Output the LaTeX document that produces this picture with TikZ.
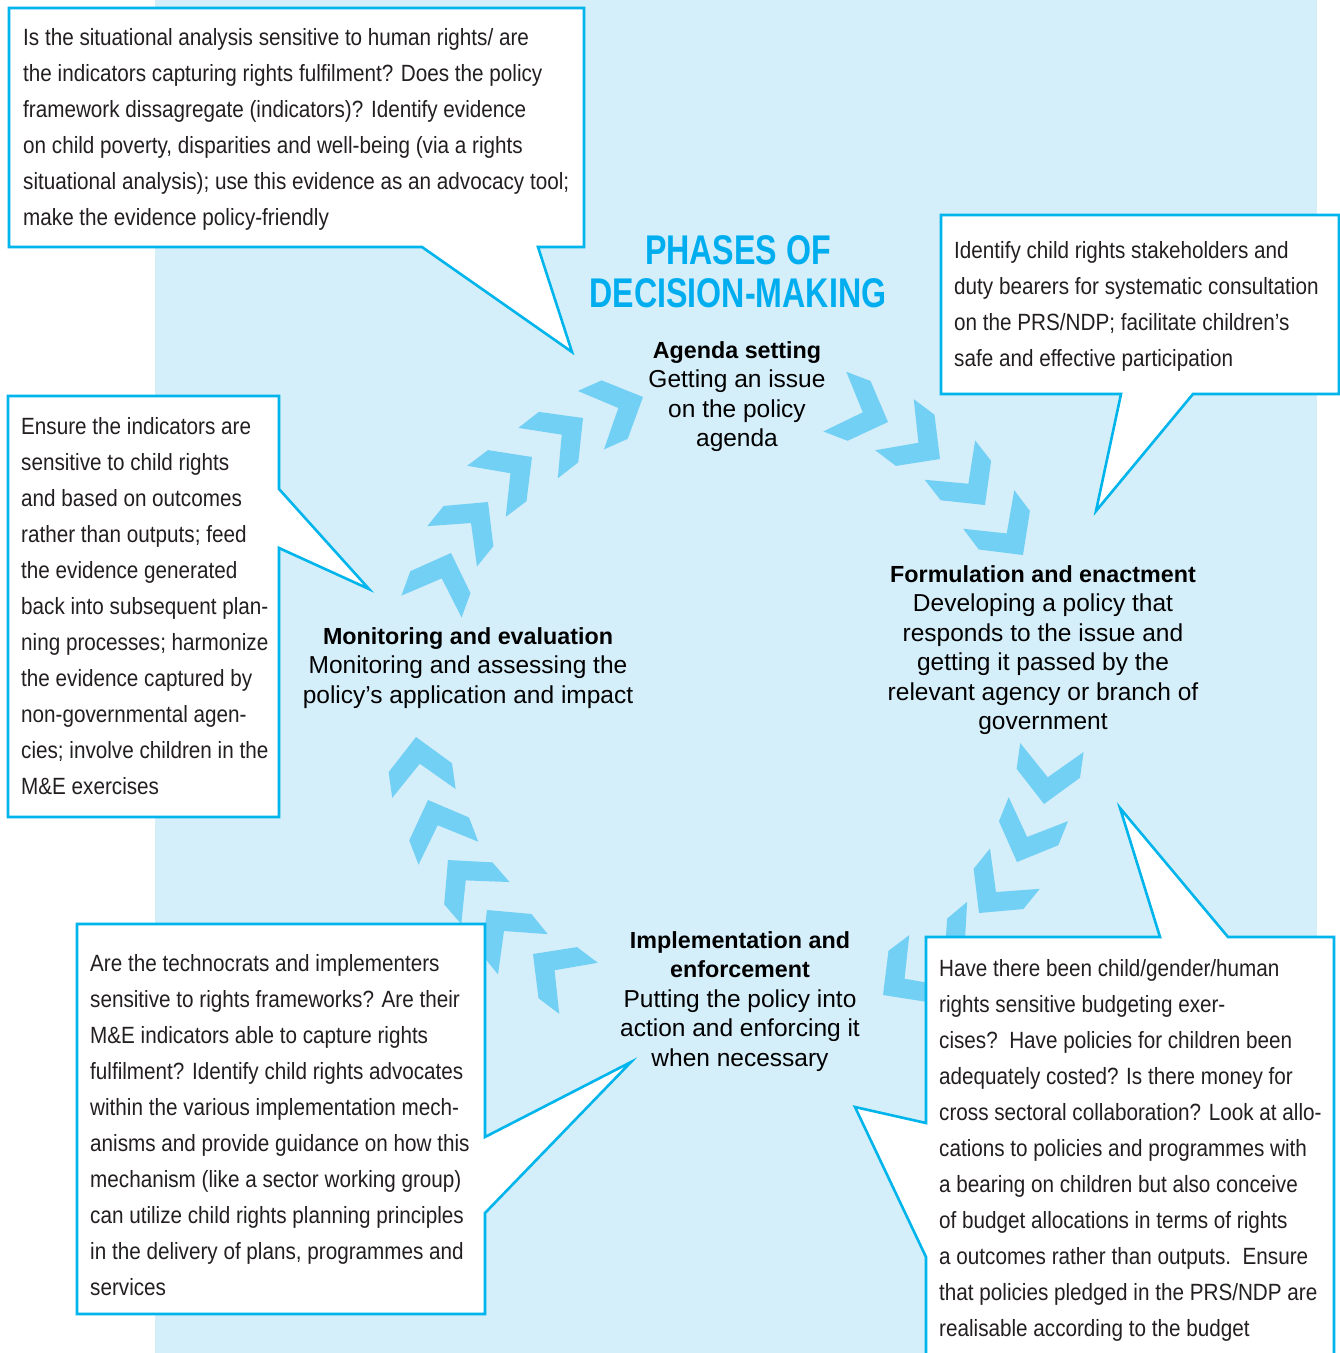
\documentclass[tikz,border=0pt]{standalone}
\usepackage{fontspec}
\setmainfont{Liberation Sans}
\newfontfamily\callfont[FakeStretch=0.88]{Liberation Sans}
\newfontfamily\titlefont[FakeStretch=0.775]{Liberation Sans}
\definecolor{bgblue}{RGB}{212,238,250}
\definecolor{chevblue}{RGB}{114,208,245}
\definecolor{edgecyan}{RGB}{0,180,236}
\definecolor{titlecyan}{RGB}{0,174,239}
\definecolor{txt}{RGB}{35,31,32}
\newcommand{\phb}[1]{{\fontsize{23.3}{29.5}\selectfont\bfseries #1}}
\begin{document}
\begin{tikzpicture}[x=1pt,y=-1pt,
  callout/.style={fill=white,draw=edgecyan,line width=2.6pt,line join=miter},
  calltext/.style={anchor=north west,inner sep=0pt,align=left,font=\callfont\fontsize{23.5}{36}\selectfont,text=txt},
  phase/.style={anchor=north,inner sep=0pt,align=center,font=\fontsize{24.5}{29.5}\selectfont,text=black},
  chev/.pic={\fill[chevblue] (0,0) -- (-31,-32) -- (-57,-32) -- (-27,0) -- (-57,32) -- (-31,32) -- cycle;}
]
\useasboundingbox (0,0) rectangle (1340,1353);
\fill[white] (0,0) rectangle (1340,1353);
\fill[bgblue] (155,0) rectangle (1317,1353);

% chevrons
\pic[rotate=24]  at (643,397) {chev};
\pic[rotate=38]  at (583,418) {chev};
\pic[rotate=37]  at (532,457) {chev};
\pic[rotate=51]  at (488,502) {chev};
\pic[rotate=70]  at (451,553) {chev};
\pic[rotate=-21] at (888,422) {chev};
\pic[rotate=-37] at (940,459) {chev};
\pic[rotate=-52] at (985,505) {chev};
\pic[rotate=-53] at (1023,555) {chev};
\pic[rotate=-98] at (1044,804) {chev};
\pic[rotate=-112] at (1017,862) {chev};
\pic[rotate=-129] at (979,913) {chev};
\pic[rotate=-140] at (944,963) {chev};
\pic[rotate=-143] at (883,995) {chev};
\pic[rotate=98]  at (416,737) {chev};
\pic[rotate=111] at (428,800) {chev};
\pic[rotate=131] at (448,860) {chev};
\pic[rotate=129] at (487,910) {chev};
\pic[rotate=143] at (533,954) {chev};

% callouts
\draw[callout] (9,8) -- (584,8) -- (584,247) -- (538,247) -- (572,352) -- (422,247) -- (9,247) -- cycle;
\draw[callout] (941,215) -- (1339,215) -- (1339,394) -- (1193,394) -- (1096,511) -- (1121,394) -- (941,394) -- cycle;
\draw[callout] (8,396) -- (279,396) -- (279,489) -- (369,589) -- (279,548) -- (279,817) -- (8,817) -- cycle;
\draw[callout] (77,924) -- (485,924) -- (485,1137) -- (631,1062) -- (485,1213) -- (485,1314) -- (77,1314) -- cycle;
\draw[callout] (926,937) -- (1160,937) -- (1120,808) -- (1228,937) -- (1334,937) -- (1334,1365) -- (926,1365) -- (926,1257) -- (855,1107) -- (926,1123) -- cycle;

\node[calltext] (t1) at (23,28) {Is the situational analysis sensitive to human rights/ are\\
the indicators capturing rights fulfilment? Does the policy\\
framework dissagregate (indicators)? Identify evidence\\
on child poverty, disparities and well-being (via a rights\\
situational analysis); use this evidence as an advocacy tool;\\
make the evidence policy-friendly};

\node[calltext] (t2) at (954,241) {Identify child rights stakeholders and\\
duty bearers for systematic consultation\\
on the PRS/NDP; facilitate children’s\\
safe and effective participation};

\node[calltext] (t3) at (21,417) {Ensure the indicators are\\
sensitive to child rights\\
and based on outcomes\\
rather than outputs; feed\\
the evidence generated\\
back into subsequent plan-\\
ning processes; harmonize\\
the evidence captured by\\
non-governmental agen-\\
cies; involve children in the\\
M\&E exercises};

\node[calltext] (t4) at (90,954) {Are the technocrats and implementers\\
sensitive to rights frameworks? Are their\\
M\&E indicators able to capture rights\\
fulfilment? Identify child rights advocates\\
within the various implementation mech-\\
anisms and provide guidance on how this\\
mechanism (like a sector working group)\\
can utilize child rights planning principles\\
in the delivery of plans, programmes and\\
services};

\node[calltext] (t5) at (939,959) {Have there been child/gender/human\\
rights sensitive budgeting exer-\\
cises?\ \ Have policies for children been\\
adequately costed? Is there money for\\
cross sectoral collaboration? Look at allo-\\
cations to policies and programmes with\\
a bearing on children but also conceive\\
of budget allocations in terms of rights\\
a outcomes rather than outputs.\ \ Ensure\\
that policies pledged in the PRS/NDP are\\
realisable according to the budget};

% title
\node[anchor=north,inner sep=0pt,align=center,text=titlecyan,font=\titlefont\bfseries\fontsize{41.5}{43}\selectfont] (title) at (738,235) {PHASES OF\\DECISION-MAKING};

% phases
\node[phase] (agenda) at (737,341) {\phb{Agenda setting}\\Getting an issue\\on the policy\\agenda};
\node[phase] (form) at (1043,565) {\phb{Formulation and enactment}\\Developing a policy that\\responds to the issue and\\getting it passed by the\\relevant agency or branch of\\government};
\node[phase] (monit) at (468,627) {\phb{Monitoring and evaluation}\\Monitoring and assessing the\\policy’s application and impact};
\node[phase] (impl) at (740,931) {\phb{Implementation and}\\\phb{enforcement}\\Putting the policy into\\action and enforcing it\\when necessary};
\end{tikzpicture}
\end{document}
